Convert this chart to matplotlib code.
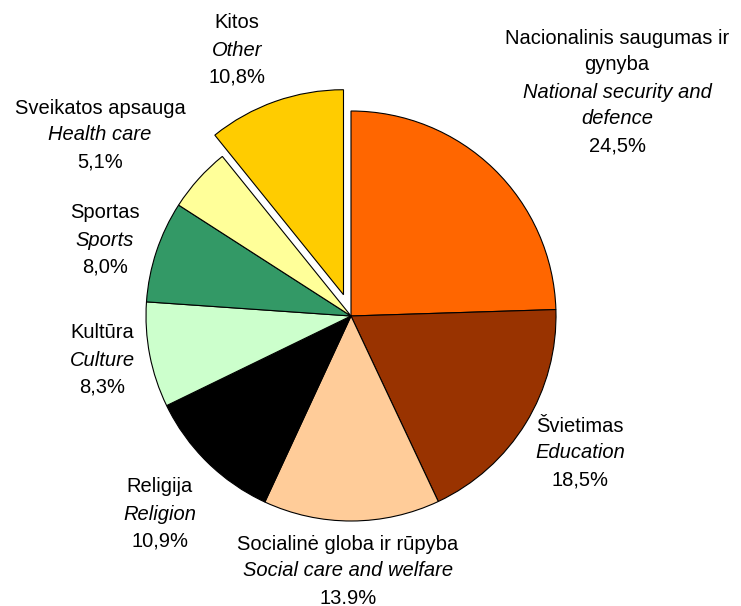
import matplotlib
matplotlib.use("Agg")
import matplotlib.pyplot as plt

lt_names = ["Nacionalinis saugumas ir\ngynyba", "Švietimas", "Socialinė globa ir rūpyba",
            "Religija", "Kultūra", "Sportas", "Sveikatos apsauga", "Kitos"]
en_names = ["National security and\ndefence", "Education", "Social care and welfare",
            "Religion", "Culture", "Sports", "Health care", "Other"]
values = [24.5, 18.5, 13.9, 10.9, 8.3, 8.0, 5.1, 10.8]
pct_labels = ["24,5%", "18,5%", "13.9%", "10,9%", "8,3%", "8,0%", "5,1%", "10,8%"]
colors = ["#FF6600", "#993300", "#FFCC99", "#000000", "#CCFFCC", "#339966", "#FFFF99", "#FFCC00"]

W, H = 741, 606
cx, cy, r = 351, H - 316, 205
explode = [0, 0, 0, 0, 0, 0, 0, 0.11 * r]  # matplotlib uses data units for the offset

fig = plt.figure(figsize=(W / 100, H / 100), dpi=100)
ax = fig.add_axes([0, 0, 1, 1])
ax.pie(values, colors=colors, explode=explode, startangle=90, counterclock=False,
       center=(cx, cy), radius=r, frame=True,
       wedgeprops=dict(edgecolor="black", linewidth=0.8))
ax.set_xlim(0, W)
ax.set_ylim(0, H)
ax.set_aspect("equal")
ax.axis("off")

fam = ["Liberation Sans", "DejaVu Sans"]
fs = 14.5
label_pos = [(617, 38), (580, 426), (348, 544), (160, 487), (102, 333), (105, 213), (100, 108), (237, 23)]
line_h = 27
for i in range(len(values)):
    x, y = label_pos[i]
    lines = []
    for part in lt_names[i].split("\n"):
        lines.append((part, "normal"))
    for part in en_names[i].split("\n"):
        lines.append((part, "italic"))
    lines.append((pct_labels[i], "normal"))
    for k, (txt, style) in enumerate(lines):
        ax.text(x, H - (y + k * line_h), txt, ha="center", va="center",
                fontsize=fs, fontstyle=style, family=fam, color="black")

fig.savefig("out.png", dpi=100, facecolor="white")
